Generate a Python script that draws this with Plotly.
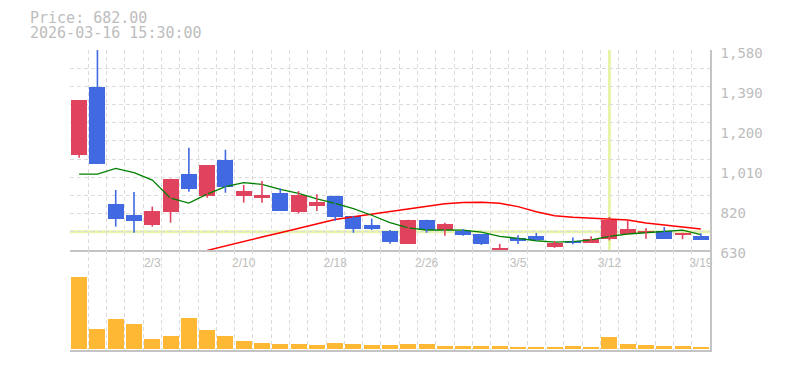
import plotly.graph_objects as go

# ---------------- data ----------------
dates = ["1/28", "1/29", "1/30", "2/2", "2/3", "2/4", "2/5", "2/6", "2/9", "2/10",
         "2/12", "2/13", "2/16", "2/17", "2/18", "2/19", "2/20", "2/24", "2/25", "2/26",
         "2/27", "3/2", "3/3", "3/4", "3/5", "3/6", "3/9", "3/10", "3/11", "3/12",
         "3/13", "3/16", "3/17", "3/18", "3/19"]

opens  = [1081, 1406, 848, 798, 749, 810, 991, 886, 1059, 886,
          877, 901, 809, 841, 888, 792, 750, 722, 659, 774,
          723, 722, 705, 628, 689, 697, 644, 674, 665, 682,
          708, 709, 722, 701, 697]
highs  = [1342, 1600, 915, 905, 836, 969, 1116, 1034, 1106, 939,
          958, 923, 910, 895, 888, 792, 779, 725, 774, 774,
          760, 730, 705, 659, 700, 711, 673, 689, 695, 787,
          773, 735, 739, 712, 709]
lows   = [1068, 1038, 741, 712, 741, 760, 907, 878, 902, 855,
          855, 815, 803, 815, 769, 712, 725, 660, 659, 712,
          698, 698, 654, 620, 659, 674, 640, 657, 665, 676,
          708, 684, 682, 681, 678]
closes = [1342, 1038, 777, 768, 815, 969, 920, 1034, 931, 910,
          893, 815, 893, 857, 788, 730, 730, 668, 774, 725,
          755, 701, 660, 641, 674, 679, 662, 665, 684, 774,
          730, 719, 682, 712, 678]

ma_short = [990, 990, 1018, 997, 962, 876, 853, 895, 931, 950,
            942, 918, 899, 873, 852, 826, 795, 760, 735, 725,
            725, 724, 715, 695, 685, 674, 667, 670, 678, 695,
            706, 712, 720, 724, 703]
ma_long = [None, None, None, None, None, None, None, 628, 650, 671,
           692, 712, 733, 755, 775, 788, 800, 812, 826, 839,
           850, 856, 857, 852, 836, 812, 793, 786, 781, 778,
           772, 758, 748, 740, 730]

volumes = [2140, 600, 900, 730, 300, 390, 930, 570, 390, 240,
           180, 150, 150, 120, 180, 150, 120, 120, 150, 150,
           90, 90, 90, 90, 60, 60, 60, 90, 60, 360,
           150, 120, 90, 90, 60]

tick_dates = ["2/3", "2/10", "2/18", "2/26", "3/5", "3/12", "3/19"]
price_ticks = [630, 820, 1010, 1200, 1390, 1580]
price_range = [630, 1580]

crosshair_date = "3/12"
crosshair_price = 717
info_lines = ["Price: 682.00", "2026-03-16 15:30:00"]

# ---------------- styles ----------------
UP = "#E0435E"
DOWN = "#4169E1"
VOL = "#FFB833"
GRID = "#DCDCDC"
AXIS = "#C4C4C4"
TEXT = "#BDBDBD"
CROSS = "#E6F5A8"
MONO = "DejaVu Sans Mono"
SANS = "Liberation Sans, Arial, sans-serif"

# page body has an 8px margin; compensate
W, H = 777, 362
L, T, PW, PH = 62, 42, 640, 300

n = len(dates)
xs = list(range(n))

fig = go.Figure()

# moving averages (behind candles)
fig.add_trace(go.Scatter(x=xs, y=ma_long, mode="lines", line=dict(color="#FF0000", width=1.5),
                         xaxis="x", yaxis="y", hoverinfo="skip", connectgaps=False))
fig.add_trace(go.Scatter(x=xs, y=ma_short, mode="lines", line=dict(color="#008000", width=1.3),
                         xaxis="x", yaxis="y", hoverinfo="skip"))

# wicks
for up in (True, False):
    wx, wy = [], []
    for i in range(n):
        if (closes[i] >= opens[i]) == up:
            wx += [xs[i], xs[i], None]
            wy += [lows[i], highs[i], None]
    fig.add_trace(go.Scatter(x=wx, y=wy, mode="lines", line=dict(color=UP if up else DOWN, width=1.6),
                             xaxis="x", yaxis="y", hoverinfo="skip"))

# bodies
body_base = [min(o, c) for o, c in zip(opens, closes)]
body_len = [max(abs(c - o), 3) for o, c in zip(opens, closes)]
body_col = [UP if c >= o else DOWN for o, c in zip(opens, closes)]
fig.add_trace(go.Bar(x=xs, y=body_len, base=body_base, marker=dict(color=body_col, line=dict(width=0)),
                     width=0.88, xaxis="x", yaxis="y", hoverinfo="skip"))

# volume
fig.add_trace(go.Bar(x=xs, y=volumes, marker=dict(color=VOL, line=dict(width=0)), width=0.88,
                     xaxis="x2", yaxis="y2", hoverinfo="skip"))

# crosshair
cx = dates.index(crosshair_date)
fig.add_shape(type="line", xref="x domain", yref="y", x0=0, x1=1, y0=crosshair_price, y1=crosshair_price,
              line=dict(color=CROSS, width=3), layer="below")
fig.add_shape(type="line", xref="x", yref="y domain", x0=cx, x1=cx, y0=0, y1=1,
              line=dict(color=CROSS, width=3), layer="below")

boundaries = [i - 0.5 for i in range(n + 1)]
grid_step = (price_range[1] - price_range[0]) / 11

fig.update_layout(
    width=W, height=H,
    margin=dict(l=L, r=W - L - PW, t=T, b=H - T - PH, autoexpand=False),
    paper_bgcolor="white", plot_bgcolor="rgba(0,0,0,0)",
    showlegend=False, bargap=0,
    xaxis=dict(domain=[0, 1], range=[-0.5, n - 0.5], anchor="y", automargin=False,
               tickmode="array", tickvals=[dates.index(d) for d in tick_dates], ticktext=tick_dates,
               showgrid=False, zeroline=False, showline=True, linecolor=AXIS, linewidth=1.5,
               ticks="outside", ticklen=1, tickcolor="rgba(0,0,0,0)",
               tickfont=dict(family=SANS, size=12, color=TEXT),
               minor=dict(tickmode="array", tickvals=boundaries, showgrid=True, gridcolor=GRID,
                          griddash="4px,3px", gridwidth=1, ticks="")),
    yaxis=dict(domain=[1/3, 1], range=price_range, side="right", anchor="x", automargin=False,
               tickmode="array", tickvals=price_ticks, ticktext=[f"{v:,}" for v in price_ticks],
               showgrid=False, zeroline=False, showline=True, linecolor=AXIS, linewidth=1.5,
               ticks="outside", ticklen=6, tickcolor="rgba(0,0,0,0)", ticklabelshift=3,
               tickfont=dict(family=MONO, size=14, color=TEXT),
               minor=dict(tickmode="linear", tick0=price_range[0], dtick=grid_step, showgrid=True,
                          gridcolor=GRID, griddash="4px,3px", gridwidth=1, ticks="")),
    xaxis2=dict(domain=[0, 1], range=[-0.5, n - 0.5], anchor="y2", matches="x", automargin=False,
                showticklabels=False, showgrid=False, zeroline=False, showline=True,
                linecolor=AXIS, linewidth=1.5, ticks="",
                minor=dict(tickmode="array", tickvals=boundaries, showgrid=True, gridcolor=GRID,
                           griddash="4px,3px", gridwidth=1, ticks="")),
    yaxis2=dict(domain=[0, 1/3], range=[-45, 2955], side="right", anchor="x2", automargin=False,
                showticklabels=False, showgrid=False, zeroline=False, showline=True,
                linecolor=AXIS, linewidth=1.5, ticks=""),
)

for k, t in enumerate(info_lines):
    fig.add_annotation(text=t, xref="paper", yref="paper", x=(21 - L) / PW, y=1 + (T - 10 - 15 * k) / PH,
                       xanchor="left", yanchor="middle", showarrow=False, borderpad=0,
                       font=dict(family=MONO, size=15, color=TEXT))

fig.write_html("out.html")
